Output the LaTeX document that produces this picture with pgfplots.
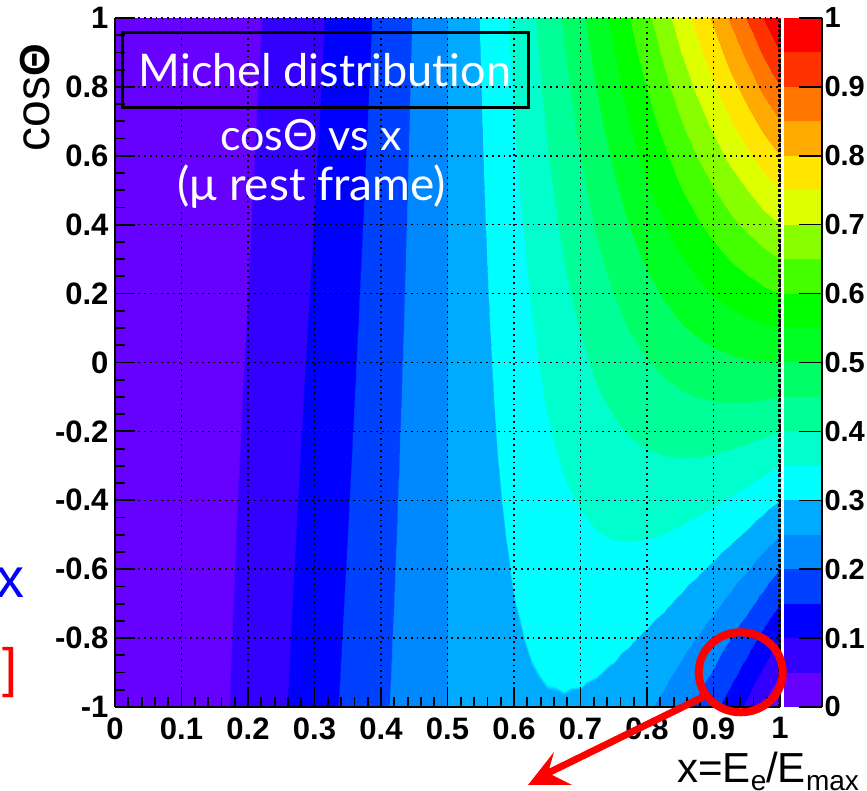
\documentclass[border=0pt]{standalone}
\usepackage{pgfplots}
\pgfplotsset{compat=1.18}
\usepackage{fontspec}
\setmainfont{Liberation Sans}
\newfontfamily\comic{Lato}
\definecolor{c1}{HTML}{6600FF}
\definecolor{c2}{HTML}{3300FF}
\definecolor{c3}{HTML}{0000FF}
\definecolor{c4}{HTML}{0040FF}
\definecolor{c5}{HTML}{0088FF}
\definecolor{c6}{HTML}{00AAFF}
\definecolor{c7}{HTML}{00FFFF}
\definecolor{c8}{HTML}{00FFCC}
\definecolor{c9}{HTML}{00FF99}
\definecolor{c10}{HTML}{00FF66}
\definecolor{c11}{HTML}{00FF22}
\definecolor{c12}{HTML}{00FF00}
\definecolor{c13}{HTML}{44FF00}
\definecolor{c14}{HTML}{88FF00}
\definecolor{c15}{HTML}{DDFF00}
\definecolor{c16}{HTML}{FFE600}
\definecolor{c17}{HTML}{FFAA00}
\definecolor{c18}{HTML}{FF7700}
\definecolor{c19}{HTML}{FF3300}
\definecolor{c20}{HTML}{FF0000}
\pgfplotsset{colormap={michel}{
color(0)=(c1) color(49)=(c1) color(50)=(c2) color(99)=(c2) color(100)=(c3) color(149)=(c3)
color(150)=(c4) color(199)=(c4) color(200)=(c5) color(249)=(c5) color(250)=(c6) color(299)=(c6)
color(300)=(c7) color(349)=(c7) color(350)=(c8) color(399)=(c8) color(400)=(c9) color(449)=(c9)
color(450)=(c10) color(499)=(c10) color(500)=(c11) color(549)=(c11) color(550)=(c12) color(599)=(c12)
color(600)=(c13) color(649)=(c13) color(650)=(c14) color(699)=(c14) color(700)=(c15) color(749)=(c15)
color(750)=(c16) color(799)=(c16) color(800)=(c17) color(849)=(c17) color(850)=(c18) color(899)=(c18)
color(900)=(c19) color(949)=(c19) color(950)=(c20) color(1000)=(c20)}}
\newcommand{\tl}{\bfseries\fontsize{31}{33}\selectfont}
\newcommand{\tlc}{\bfseries\fontsize{29}{31}\selectfont}
\begin{document}
\begin{tikzpicture}[x=1pt,y=1pt]
\path[use as bounding box] (0,0) rectangle (867,791);
\begin{axis}[
  at={(115pt,84pt)},anchor=south west,scale only axis,width=665pt,height=689pt,
  view={0}{90},xmin=0,xmax=1,ymin=-1,ymax=1,
  point meta min=0,point meta max=1,
  axis x line*=bottom,axis y line*=left,
  axis line style={line width=2.5pt,-},
  axis on top=true,
  tick align=inside,
  major tick length=20pt,minor tick length=10pt,
  tick style={black,line width=1.8pt},
  xtick={0,0.1,...,1.01},
  xticklabels={0,0.1,0.2,0.3,0.4,0.5,0.6,0.7,0.8,0.9,1},
  ytick={-1,-0.8,...,1.01},
  yticklabels={-1,-0.8,-0.6,-0.4,-0.2,0,0.2,0.4,0.6,0.8,1},
  ztick=\empty,
  minor x tick num=4,minor y tick num=3,
  grid=major,
  major grid style={black,line width=1.5pt,dash pattern=on 1.8pt off 4pt},
  tick label style={font=\tl},
  xticklabel style={yshift=-7pt},
  yticklabel style={xshift=-3pt},
  clip=false,
]
\addplot3[surf,shader=interp,mesh/rows=11,mesh/cols=12,mesh/ordering=y varies] coordinates {
(0,-1,0)(0,-.8,0)(0,-.6,0)(0,-.4,0)(0,-.2,0)(0,0,0)(0,.2,0)(0,.4,0)(0,.6,0)(0,.8,0)(0,1,0)
(.05,-1,.00475)(.05,-.8,.00453)(.05,-.6,.0043)(.05,-.4,.00408)(.05,-.2,.00385)(.05,0,.00363)(.05,.2,.0034)(.05,.4,.00318)(.05,.6,.00295)(.05,.8,.00273)(.05,1,.0025)
(.1,-1,.018)(.1,-.8,.0172)(.1,-.6,.0164)(.1,-.4,.0156)(.1,-.2,.0148)(.1,0,.014)(.1,.2,.0132)(.1,.4,.0124)(.1,.6,.0116)(.1,.8,.0108)(.1,1,.01)
(.15,-1,.03825)(.15,-.8,.03668)(.15,-.6,.0351)(.15,-.4,.03353)(.15,-.2,.03195)(.15,0,.03038)(.15,.2,.0288)(.15,.4,.02723)(.15,.6,.02565)(.15,.8,.02408)(.15,1,.0225)
(.2,-1,.064)(.2,-.8,.0616)(.2,-.6,.0592)(.2,-.4,.0568)(.2,-.2,.0544)(.2,0,.052)(.2,.2,.0496)(.2,.4,.0472)(.2,.6,.0448)(.2,.8,.0424)(.2,1,.04)
(.25,-1,.09375)(.25,-.8,.09063)(.25,-.6,.0875)(.25,-.4,.08438)(.25,-.2,.08125)(.25,0,.07813)(.25,.2,.075)(.25,.4,.07188)(.25,.6,.06875)(.25,.8,.06563)(.25,1,.0625)
(.3,-1,.126)(.3,-.8,.1224)(.3,-.6,.1188)(.3,-.4,.1152)(.3,-.2,.1116)(.3,0,.108)(.3,.2,.1044)(.3,.4,.1008)(.3,.6,.0972)(.3,.8,.0936)(.3,1,.09)
(.35,-1,.15925)(.35,-.8,.15558)(.35,-.6,.1519)(.35,-.4,.14823)(.35,-.2,.14455)(.35,0,.14088)(.35,.2,.1372)(.35,.4,.13353)(.35,.6,.12985)(.35,.8,.12618)(.35,1,.1225)
(.4,-1,.192)(.4,-.8,.1888)(.4,-.6,.1856)(.4,-.4,.1824)(.4,-.2,.1792)(.4,0,.176)(.4,.2,.1728)(.4,.4,.1696)(.4,.6,.1664)(.4,.8,.1632)(.4,1,.16)
(.45,-1,.22275)(.45,-.8,.22073)(.45,-.6,.2187)(.45,-.4,.21668)(.45,-.2,.21465)(.45,0,.21263)(.45,.2,.2106)(.45,.4,.20858)(.45,.6,.20655)(.45,.8,.20453)(.45,1,.2025)
(.5,-1,.25)(.5,-.8,.25)(.5,-.6,.25)(.5,-.4,.25)(.5,-.2,.25)(.5,0,.25)(.5,.2,.25)(.5,.4,.25)(.5,.6,.25)(.5,.8,.25)(.5,1,.25)
(.55,-1,.27225)(.55,-.8,.27528)(.55,-.6,.2783)(.55,-.4,.28133)(.55,-.2,.28435)(.55,0,.28738)(.55,.2,.2904)(.55,.4,.29343)(.55,.6,.29645)(.55,.8,.29948)(.55,1,.3025)
};
\addplot3[surf,shader=interp,mesh/rows=21,mesh/cols=21,mesh/ordering=y varies] coordinates {
(.5,-1,.25)(.5,-.9,.25)(.5,-.8,.25)(.5,-.7,.25)(.5,-.6,.25)(.5,-.5,.25)(.5,-.4,.25)(.5,-.3,.25)(.5,-.2,.25)(.5,-.1,.25)(.5,0,.25)(.5,.1,.25)(.5,.2,.25)(.5,.3,.25)(.5,.4,.25)(.5,.5,.25)(.5,.6,.25)(.5,.7,.25)(.5,.8,.25)(.5,.9,.25)(.5,1,.25)
(.525,-1,.2618)(.525,-.9,.2625)(.525,-.8,.2632)(.525,-.7,.2639)(.525,-.6,.2646)(.525,-.5,.2653)(.525,-.4,.266)(.525,-.3,.2667)(.525,-.2,.2674)(.525,-.1,.2681)(.525,0,.2687)(.525,.1,.2694)(.525,.2,.2701)(.525,.3,.2708)(.525,.4,.2715)(.525,.5,.2722)(.525,.6,.2729)(.525,.7,.2736)(.525,.8,.2743)(.525,.9,.275)(.525,1,.2756)
(.55,-1,.2723)(.55,-.9,.2738)(.55,-.8,.2753)(.55,-.7,.2768)(.55,-.6,.2783)(.55,-.5,.2798)(.55,-.4,.2813)(.55,-.3,.2828)(.55,-.2,.2844)(.55,-.1,.2859)(.55,0,.2874)(.55,.1,.2889)(.55,.2,.2904)(.55,.3,.2919)(.55,.4,.2934)(.55,.5,.2949)(.55,.6,.2964)(.55,.7,.298)(.55,.8,.2995)(.55,.9,.301)(.55,1,.3025)
(.575,-1,.281)(.575,-.9,.2835)(.575,-.8,.286)(.575,-.7,.2885)(.575,-.6,.2909)(.575,-.5,.2934)(.575,-.4,.2959)(.575,-.3,.2984)(.575,-.2,.3009)(.575,-.1,.3034)(.575,0,.3058)(.575,.1,.3083)(.575,.2,.3108)(.575,.3,.3133)(.575,.4,.3158)(.575,.5,.3182)(.575,.6,.3207)(.575,.7,.3232)(.575,.8,.3257)(.575,.9,.3282)(.575,1,.3306)
(.6,-1,.288)(.6,-.9,.2916)(.6,-.8,.2952)(.6,-.7,.2988)(.6,-.6,.3024)(.6,-.5,.306)(.6,-.4,.3096)(.6,-.3,.3132)(.6,-.2,.3168)(.6,-.1,.3204)(.6,0,.324)(.6,.1,.3276)(.6,.2,.3312)(.6,.3,.3348)(.6,.4,.3384)(.6,.5,.342)(.6,.6,.3456)(.6,.7,.3492)(.6,.8,.3528)(.6,.9,.3564)(.6,1,.36)
(.625,-1,.293)(.625,-.9,.2978)(.625,-.8,.3027)(.625,-.7,.3076)(.625,-.6,.3125)(.625,-.5,.3174)(.625,-.4,.3223)(.625,-.3,.3271)(.625,-.2,.332)(.625,-.1,.3369)(.625,0,.3418)(.625,.1,.3467)(.625,.2,.3516)(.625,.3,.3564)(.625,.4,.3613)(.625,.5,.3662)(.625,.6,.3711)(.625,.7,.376)(.625,.8,.3809)(.625,.9,.3857)(.625,1,.3906)
(.65,-1,.2958)(.65,-.9,.3021)(.65,-.8,.3084)(.65,-.7,.3148)(.65,-.6,.3211)(.65,-.5,.3274)(.65,-.4,.3338)(.65,-.3,.3401)(.65,-.2,.3464)(.65,-.1,.3528)(.65,0,.3591)(.65,.1,.3654)(.65,.2,.3718)(.65,.3,.3781)(.65,.4,.3845)(.65,.5,.3908)(.65,.6,.3971)(.65,.7,.4035)(.65,.8,.4098)(.65,.9,.4161)(.65,1,.4225)
(.675,-1,.2962)(.675,-.9,.3041)(.675,-.8,.3121)(.675,-.7,.3201)(.675,-.6,.3281)(.675,-.5,.336)(.675,-.4,.344)(.675,-.3,.352)(.675,-.2,.3599)(.675,-.1,.3679)(.675,0,.3759)(.675,.1,.3839)(.675,.2,.3918)(.675,.3,.3998)(.675,.4,.4078)(.675,.5,.4158)(.675,.6,.4237)(.675,.7,.4317)(.675,.8,.4397)(.675,.9,.4476)(.675,1,.4556)
(.7,-1,.294)(.7,-.9,.3038)(.7,-.8,.3136)(.7,-.7,.3234)(.7,-.6,.3332)(.7,-.5,.343)(.7,-.4,.3528)(.7,-.3,.3626)(.7,-.2,.3724)(.7,-.1,.3822)(.7,0,.392)(.7,.1,.4018)(.7,.2,.4116)(.7,.3,.4214)(.7,.4,.4312)(.7,.5,.441)(.7,.6,.4508)(.7,.7,.4606)(.7,.8,.4704)(.7,.9,.4802)(.7,1,.49)
(.725,-1,.2891)(.725,-.9,.3009)(.725,-.8,.3128)(.725,-.7,.3246)(.725,-.6,.3364)(.725,-.5,.3482)(.725,-.4,.3601)(.725,-.3,.3719)(.725,-.2,.3837)(.725,-.1,.3955)(.725,0,.4074)(.725,.1,.4192)(.725,.2,.431)(.725,.3,.4428)(.725,.4,.4547)(.725,.5,.4665)(.725,.6,.4783)(.725,.7,.4901)(.725,.8,.502)(.725,.9,.5138)(.725,1,.5256)
(.75,-1,.2813)(.75,-.9,.2953)(.75,-.8,.3094)(.75,-.7,.3234)(.75,-.6,.3375)(.75,-.5,.3516)(.75,-.4,.3656)(.75,-.3,.3797)(.75,-.2,.3938)(.75,-.1,.4078)(.75,0,.4219)(.75,.1,.4359)(.75,.2,.45)(.75,.3,.4641)(.75,.4,.4781)(.75,.5,.4922)(.75,.6,.5063)(.75,.7,.5203)(.75,.8,.5344)(.75,.9,.5484)(.75,1,.5625)
(.775,-1,.2703)(.775,-.9,.2868)(.775,-.8,.3033)(.775,-.7,.3198)(.775,-.6,.3364)(.775,-.5,.3529)(.775,-.4,.3694)(.775,-.3,.3859)(.775,-.2,.4024)(.775,-.1,.4189)(.775,0,.4355)(.775,.1,.452)(.775,.2,.4685)(.775,.3,.485)(.775,.4,.5015)(.775,.5,.518)(.775,.6,.5346)(.775,.7,.5511)(.775,.8,.5676)(.775,.9,.5841)(.775,1,.6006)
(.8,-1,.256)(.8,-.9,.2752)(.8,-.8,.2944)(.8,-.7,.3136)(.8,-.6,.3328)(.8,-.5,.352)(.8,-.4,.3712)(.8,-.3,.3904)(.8,-.2,.4096)(.8,-.1,.4288)(.8,0,.448)(.8,.1,.4672)(.8,.2,.4864)(.8,.3,.5056)(.8,.4,.5248)(.8,.5,.544)(.8,.6,.5632)(.8,.7,.5824)(.8,.8,.6016)(.8,.9,.6208)(.8,1,.64)
(.825,-1,.2382)(.825,-.9,.2603)(.825,-.8,.2825)(.825,-.7,.3046)(.825,-.6,.3267)(.825,-.5,.3488)(.825,-.4,.3709)(.825,-.3,.393)(.825,-.2,.4152)(.825,-.1,.4373)(.825,0,.4594)(.825,.1,.4815)(.825,.2,.5036)(.825,.3,.5258)(.825,.4,.5479)(.825,.5,.57)(.825,.6,.5921)(.825,.7,.6142)(.825,.8,.6363)(.825,.9,.6585)(.825,1,.6806)
(.85,-1,.2168)(.85,-.9,.242)(.85,-.8,.2673)(.85,-.7,.2926)(.85,-.6,.3179)(.85,-.5,.3432)(.85,-.4,.3685)(.85,-.3,.3938)(.85,-.2,.4191)(.85,-.1,.4443)(.85,0,.4696)(.85,.1,.4949)(.85,.2,.5202)(.85,.3,.5455)(.85,.4,.5708)(.85,.5,.5961)(.85,.6,.6214)(.85,.7,.6466)(.85,.8,.6719)(.85,.9,.6972)(.85,1,.7225)
(.875,-1,.1914)(.875,-.9,.2201)(.875,-.8,.2488)(.875,-.7,.2775)(.875,-.6,.3062)(.875,-.5,.3349)(.875,-.4,.3637)(.875,-.3,.3924)(.875,-.2,.4211)(.875,-.1,.4498)(.875,0,.4785)(.875,.1,.5072)(.875,.2,.5359)(.875,.3,.5646)(.875,.4,.5934)(.875,.5,.6221)(.875,.6,.6508)(.875,.7,.6795)(.875,.8,.7082)(.875,.9,.7369)(.875,1,.7656)
(.9,-1,.162)(.9,-.9,.1944)(.9,-.8,.2268)(.9,-.7,.2592)(.9,-.6,.2916)(.9,-.5,.324)(.9,-.4,.3564)(.9,-.3,.3888)(.9,-.2,.4212)(.9,-.1,.4536)(.9,0,.486)(.9,.1,.5184)(.9,.2,.5508)(.9,.3,.5832)(.9,.4,.6156)(.9,.5,.648)(.9,.6,.6804)(.9,.7,.7128)(.9,.8,.7452)(.9,.9,.7776)(.9,1,.81)
(.925,-1,.1283)(.925,-.9,.1647)(.925,-.8,.2011)(.925,-.7,.2374)(.925,-.6,.2738)(.925,-.5,.3102)(.925,-.4,.3465)(.925,-.3,.3829)(.925,-.2,.4193)(.925,-.1,.4556)(.925,0,.492)(.925,.1,.5284)(.925,.2,.5648)(.925,.3,.6011)(.925,.4,.6375)(.925,.5,.6739)(.925,.6,.7102)(.925,.7,.7466)(.925,.8,.783)(.925,.9,.8193)(.925,1,.8556)
(.95,-1,.0903)(.95,-.9,.1309)(.95,-.8,.1715)(.95,-.7,.2121)(.95,-.6,.2527)(.95,-.5,.2933)(.95,-.4,.3339)(.95,-.3,.3745)(.95,-.2,.4152)(.95,-.1,.4558)(.95,0,.4964)(.95,.1,.537)(.95,.2,.5776)(.95,.3,.6182)(.95,.4,.6588)(.95,.5,.6994)(.95,.6,.74)(.95,.7,.7806)(.95,.8,.8212)(.95,.9,.8619)(.95,1,.9025)
(.975,-1,.0475)(.975,-.9,.0927)(.975,-.8,.1379)(.975,-.7,.183)(.975,-.6,.2282)(.975,-.5,.2733)(.975,-.4,.3185)(.975,-.3,.3636)(.975,-.2,.4088)(.975,-.1,.4539)(.975,0,.4991)(.975,.1,.5443)(.975,.2,.5894)(.975,.3,.6346)(.975,.4,.6797)(.975,.5,.7249)(.975,.6,.77)(.975,.7,.8152)(.975,.8,.8604)(.975,.9,.9055)(.975,1,.9506)
(1,-1,0)(1,-.9,.05)(1,-.8,.1)(1,-.7,.15)(1,-.6,.2)(1,-.5,.25)(1,-.4,.3)(1,-.3,.35)(1,-.2,.4)(1,-.1,.45)(1,0,.5)(1,.1,.55)(1,.2,.6)(1,.3,.65)(1,.4,.7)(1,.5,.75)(1,.6,.8)(1,.7,.85)(1,.8,.9)(1,.9,.95)(1,1,1)
};
\end{axis}
\begin{axis}[
  at={(784pt,84pt)},anchor=south west,scale only axis,width=38pt,height=689pt,
  xmin=0,xmax=1,ymin=0,ymax=1,
  axis x line=none,axis y line*=right,
  axis line style={line width=1.5pt,-},
  axis on top=true,
  tick align=inside,major tick length=23pt,
  tick style={black,line width=1.5pt},
  ytick={0,0.1,...,1.01},
  yticklabels={0,0.1,0.2,0.3,0.4,0.5,0.6,0.7,0.8,0.9,1},
  tick label style={font=\tlc},
  yticklabel style={xshift=-1pt},
  clip=false,
]
\addplot[fill=c1,draw=none] coordinates {(0,0)(1,0)(1,.05)(0,.05)} -- cycle;
\addplot[fill=c2,draw=none] coordinates {(0,.05)(1,.05)(1,.1)(0,.1)} -- cycle;
\addplot[fill=c3,draw=none] coordinates {(0,.1)(1,.1)(1,.15)(0,.15)} -- cycle;
\addplot[fill=c4,draw=none] coordinates {(0,.15)(1,.15)(1,.2)(0,.2)} -- cycle;
\addplot[fill=c5,draw=none] coordinates {(0,.2)(1,.2)(1,.25)(0,.25)} -- cycle;
\addplot[fill=c6,draw=none] coordinates {(0,.25)(1,.25)(1,.3)(0,.3)} -- cycle;
\addplot[fill=c7,draw=none] coordinates {(0,.3)(1,.3)(1,.35)(0,.35)} -- cycle;
\addplot[fill=c8,draw=none] coordinates {(0,.35)(1,.35)(1,.4)(0,.4)} -- cycle;
\addplot[fill=c9,draw=none] coordinates {(0,.4)(1,.4)(1,.45)(0,.45)} -- cycle;
\addplot[fill=c10,draw=none] coordinates {(0,.45)(1,.45)(1,.5)(0,.5)} -- cycle;
\addplot[fill=c11,draw=none] coordinates {(0,.5)(1,.5)(1,.55)(0,.55)} -- cycle;
\addplot[fill=c12,draw=none] coordinates {(0,.55)(1,.55)(1,.6)(0,.6)} -- cycle;
\addplot[fill=c13,draw=none] coordinates {(0,.6)(1,.6)(1,.65)(0,.65)} -- cycle;
\addplot[fill=c14,draw=none] coordinates {(0,.65)(1,.65)(1,.7)(0,.7)} -- cycle;
\addplot[fill=c15,draw=none] coordinates {(0,.7)(1,.7)(1,.75)(0,.75)} -- cycle;
\addplot[fill=c16,draw=none] coordinates {(0,.75)(1,.75)(1,.8)(0,.8)} -- cycle;
\addplot[fill=c17,draw=none] coordinates {(0,.8)(1,.8)(1,.85)(0,.85)} -- cycle;
\addplot[fill=c18,draw=none] coordinates {(0,.85)(1,.85)(1,.9)(0,.9)} -- cycle;
\addplot[fill=c19,draw=none] coordinates {(0,.9)(1,.9)(1,.95)(0,.95)} -- cycle;
\addplot[fill=c20,draw=none] coordinates {(0,.95)(1,.95)(1,1)(0,1)} -- cycle;
\end{axis}
% dotted right border
\draw[black,line width=3pt,dash pattern=on 2.5pt off 2.5pt] (779,84) -- (779,773);
% annotation box and texts
\draw[black,line width=3pt] (122,683) rectangle (528,758);
\node[white,anchor=center,font=\comic\fontsize{45}{48}\selectfont] at (325,721) {Michel distribution};
\node[white,anchor=center,font=\comic\fontsize{43}{46}\selectfont] at (311,656) {cosΘ vs x};
\node[white,anchor=center,font=\comic\fontsize{46}{50}\selectfont] at (312,604) {(μ rest frame)};
% axis titles
\node[rotate=90,anchor=center] at (35,693) {\fontsize{48}{50}\selectfont cos{\fontsize{42}{44}\selectfont\bfseries Θ}};
\node[anchor=base west,inner sep=0pt] at (677,8) {\fontsize{42}{44}\selectfont x=E\raisebox{-8pt}{\fontsize{28}{30}\selectfont e}/E\raisebox{-8pt}{\fontsize{28}{30}\selectfont max}};
% cropped slide text at the left
\node[anchor=base east,inner sep=0pt,text=blue] at (25,193) {\fontsize{56}{60}\selectfont x};
\node[anchor=base east,inner sep=0pt,text=red] at (18,104) {\fontsize{54}{60}\selectfont ]};
% red circle and arrow
\draw[red,line width=8pt] (740.7,118.7) ellipse (42 and 40);
\draw[red,line width=7pt] (703,94) -- (548,18);
\fill[red] (528,6) -- (554,39) -- (548,18) -- (572,6) -- cycle;
\end{tikzpicture}
\end{document}
